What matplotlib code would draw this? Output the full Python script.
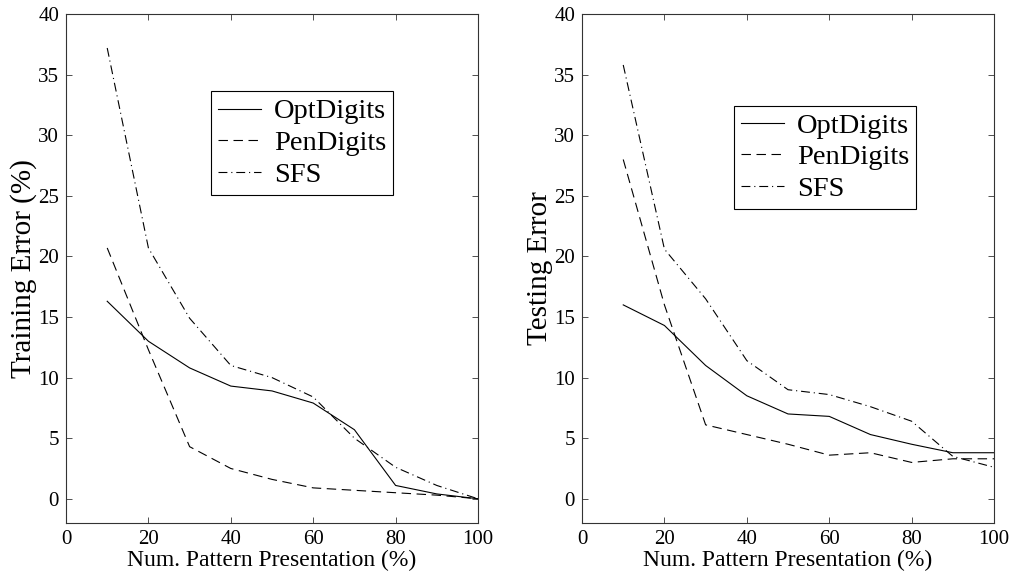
import numpy as np
import matplotlib
matplotlib.use("Agg")
import matplotlib.pyplot as plt

# presentation percentages
presentation = [10, 20, 30, 40, 50, 60, 70, 80, 90, 100]

# training error (%)
train_opt = [16.3, 13.0, 10.8, 9.3, 8.9, 7.9, 5.7, 1.1, 0.4, 0.0]
train_pen = [20.7, 12.3, 4.3, 2.5, 1.6, 0.9, 0.7, 0.5, 0.3, 0.0]
train_sfs = [37.2, 20.7, 14.9, 11.0, 10.0, 8.4, 5.0, 2.6, 1.1, 0.0]

# testing error
test_opt = [16.0, 14.3, 11.0, 8.5, 7.0, 6.8, 5.3, 4.5, 3.8, 3.8]
test_pen = [28.0, 16.0, 6.1, 5.3, 4.5, 3.6, 3.8, 3.0, 3.3, 3.3]
test_sfs = [35.8, 20.6, 16.5, 11.4, 9.0, 8.6, 7.6, 6.4, 3.5, 2.6]

series_names = ["OptDigits", "PenDigits", "SFS"]

plt.rcParams["font.family"] = ["Liberation Serif", "DejaVu Serif"]
plt.rcParams["mathtext.fontset"] = "stix"

styles = ["-", (0, (8.5, 5)), (0, (8, 3.5, 1, 3.5))]

fig = plt.figure(figsize=(10.14, 5.81), dpi=100)
ax1 = fig.add_axes([0.0651, 0.0998, 0.4063, 0.876])
ax2 = fig.add_axes([0.574, 0.0998, 0.4063, 0.876])


def draw_panel(ax, data, ylabel, legend_anchor):
    for vals, name, ls in zip(data, series_names, styles):
        ax.plot(presentation, vals, color="black", linestyle=ls, linewidth=0.8, label=name)
    ax.set_xlim(0, 100)
    ax.set_ylim(-2, 40)
    ax.set_xticks(np.arange(0, 101, 20))
    ax.set_yticks(np.arange(0, 41, 5))
    ax.tick_params(direction="in", top=True, right=True, length=4, width=0.6,
                   labelsize=15, pad=5, color="#333333")
    for sp in ax.spines.values():
        sp.set_linewidth(0.8)
        sp.set_color("#333333")
    ax.set_xlabel("Num. Pattern Presentation (%)", fontsize=17, labelpad=1)
    ax.set_ylabel(ylabel, fontsize=21, labelpad=0.5)
    leg = ax.legend(loc="upper left", bbox_to_anchor=legend_anchor, borderaxespad=0,
                    fancybox=False, edgecolor="black", framealpha=1, fontsize=20.5,
                    handlelength=1.5, handletextpad=0.45, labelspacing=0.2,
                    borderpad=0.25)
    leg.get_frame().set_linewidth(0.8)


draw_panel(ax1, [train_opt, train_pen, train_sfs], "Training Error (%)", (0.352, 0.848))
draw_panel(ax2, [test_opt, test_pen, test_sfs], "Testing Error", (0.369, 0.820))

fig.savefig("out.png", dpi=100)
